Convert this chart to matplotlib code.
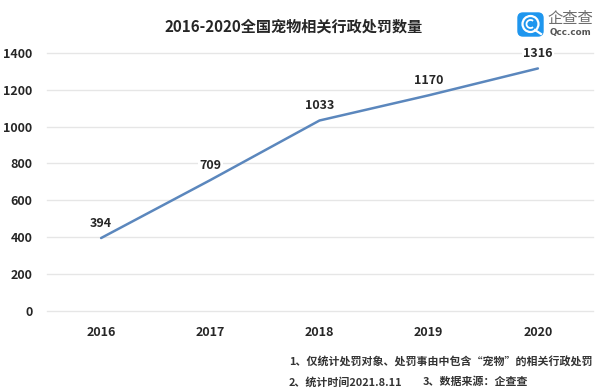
import matplotlib
matplotlib.use('Agg')
import matplotlib.pyplot as plt
from matplotlib.patches import FancyBboxPatch, Circle, Arc

plt.rcParams['font.family'] = ['Noto Sans CJK SC', 'DejaVu Sans']

years = ['2016', '2017', '2018', '2019', '2020']
counts = [394, 709, 1033, 1170, 1316]
yticks = [0, 200, 400, 600, 800, 1000, 1200, 1400]

W, H = 600, 390
fig = plt.figure(figsize=(6, 3.9), dpi=100)
ax = fig.add_axes([46.5 / W, (H - 310.5) / H, 546 / W, 257.5 / H])

ax.plot(years, counts, color='#5b87bd', linewidth=1.8, zorder=3, solid_capstyle='round')
ax.set_xlim(-0.5, 4.5)
ax.set_ylim(0, 1400)
ax.set_yticks(yticks)
ax.grid(axis='y', color='#e6e6e6', linewidth=1.0, clip_on=False)
ax.set_axisbelow(True)
for s in ax.spines.values():
    s.set_visible(False)
ax.tick_params(length=0)
ax.tick_params(axis='y', labelsize=9, labelcolor='#262626', pad=10)
ax.tick_params(axis='x', labelsize=9, labelcolor='#262626', pad=11)
for lab in ax.get_xticklabels() + ax.get_yticklabels():
    lab.set_fontweight('bold')
for line in ax.get_ygridlines():
    line.set_clip_on(False)

# value labels, under the line so the white box only hides the grid
for i, v in enumerate(counts):
    t = ax.annotate(str(v), (i, v), xytext=(0, 6), textcoords='offset points',
                    ha='center', va='bottom', fontsize=9, fontweight='bold', color='#262626',
                    annotation_clip=False, zorder=2.5)
    t.set_bbox(dict(facecolor='white', edgecolor='none', pad=1.0))

fig.text(294 / W, 1 - 27 / H, '2016-2020全国宠物相关行政处罚数量', ha='center', va='center',
         fontsize=10.9, fontweight='bold', color='#262626')

# notes
fig.text(289 / W, 1 - 361 / H, '1、仅统计处罚对象、处罚事由中包含“宠物”的相关行政处罚', ha='left', va='center',
         fontsize=7.9, fontweight='bold', color='#333333')
fig.text(289 / W, 1 - 382 / H, '2、统计时间2021.8.11', ha='left', va='center',
         fontsize=7.9, fontweight='bold', color='#333333')
fig.text(423 / W, 1 - 382 / H, '3、数据来源：企查查', ha='left', va='center',
         fontsize=7.9, fontweight='bold', color='#333333')

# logo
logo = fig.add_axes([0, 0, 1, 1], facecolor='none')
logo.set_xlim(0, W)
logo.set_ylim(H, 0)
logo.axis('off')
logo.add_patch(FancyBboxPatch((518, 13), 25, 23, boxstyle='round,pad=0,rounding_size=5',
                              facecolor='#1e96ee', edgecolor='#1e96ee', linewidth=1))
logo.add_patch(Circle((530.5, 24), 8, facecolor='none', edgecolor='white', linewidth=1.6))
logo.add_patch(Arc((530.5, 24), 8, 8, theta1=50, theta2=310, edgecolor='white', linewidth=1.3))
logo.plot([535, 541], [30, 34], color='white', linewidth=1.6)
logo.text(570, 19, '企查查', ha='center', va='center', fontsize=11, color='#6e6e6e')
logo.text(570, 32, 'Qcc.com', ha='center', va='center', fontsize=6.3, fontweight='bold',
          family='DejaVu Sans', color='#555555')

fig.savefig('out.png', dpi=100, facecolor='white')
